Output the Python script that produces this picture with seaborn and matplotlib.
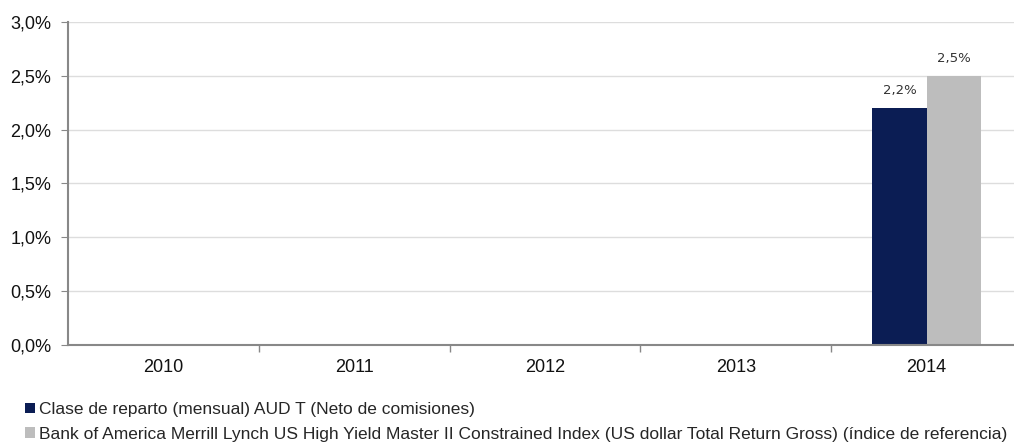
import numpy as np
import pandas as pd
import seaborn as sns
import matplotlib.pyplot as plt
from matplotlib.patches import Patch
from matplotlib.ticker import FuncFormatter, FixedLocator

# Datos del gráfico (rentabilidad anual, %)
anos = ["2010", "2011", "2012", "2013", "2014"]
clase = [np.nan, np.nan, np.nan, np.nan, 2.2]
indice = [np.nan, np.nan, np.nan, np.nan, 2.5]
series = [
    "Clase de reparto (mensual) AUD T (Neto de comisiones)",
    "Bank of America Merrill Lynch US High Yield Master II Constrained Index (US dollar Total Return Gross) (índice de referencia)",
]
colores = ["#0B1D54", "#BDBDBD"]

df = pd.DataFrame({
    "ano": anos * 2,
    "valor": clase + indice,
    "serie": [series[0]] * len(anos) + [series[1]] * len(anos),
})

sns.set_style("white")
plt.rcParams["font.family"] = ["Liberation Sans", "DejaVu Sans"]

fig = plt.figure(figsize=(10.14, 4.43), dpi=100)
ax = fig.add_axes([68 / 1014, 1 - 345 / 443, (1022 - 68) / 1014, (345 - 22) / 443])

sns.barplot(data=df, x="ano", y="valor", hue="serie", palette=colores,
            width=0.57, saturation=1, ax=ax, legend=False,
            edgecolor="none", linewidth=0)

ax.set_ylim(0, 3.0)
ax.set_xlim(-0.5, 4.5)
ax.set_yticks(np.arange(0, 3.01, 0.5))
ax.yaxis.set_major_formatter(FuncFormatter(lambda v, p: f"{v:.1f}%".replace(".", ",")))
ax.grid(axis="y", color="#DDDDDD", linewidth=1)
ax.set_axisbelow(True)
ax.set_xlabel("")
ax.set_ylabel("")

for s in ["top", "right"]:
    ax.spines[s].set_visible(False)
for s in ["left", "bottom"]:
    ax.spines[s].set_color("#888888")
    ax.spines[s].set_linewidth(1.5)

ax.tick_params(axis="y", length=5, color="#888888", labelsize=13, labelcolor="#111111", pad=7, left=True)
ax.tick_params(axis="x", which="major", length=0, labelsize=13, labelcolor="#111111", pad=10)
ax.xaxis.set_minor_locator(FixedLocator([0.5, 1.5, 2.5, 3.5]))
ax.tick_params(axis="x", which="minor", length=5, color="#888888", width=1, bottom=True)

# Etiquetas de datos
for cont in ax.containers:
    ax.bar_label(cont, labels=[("" if np.isnan(v) else f"{v:.1f}%".replace(".", ","))
                               for v in cont.datavalues],
                 padding=8, fontsize=9.5, color="#333333", family="DejaVu Sans")

# Leyenda
handles = [Patch(facecolor=c, edgecolor="none") for c in colores]
fig.legend(handles, series, loc="upper left", bbox_to_anchor=(25 / 1014, 1 - 402 / 443),
           frameon=False, fontsize=12.5, handlelength=0.55, handleheight=0.55,
           handletextpad=0.25, labelspacing=0.55, borderaxespad=0, borderpad=0)

fig.savefig("out.png", dpi=100)
